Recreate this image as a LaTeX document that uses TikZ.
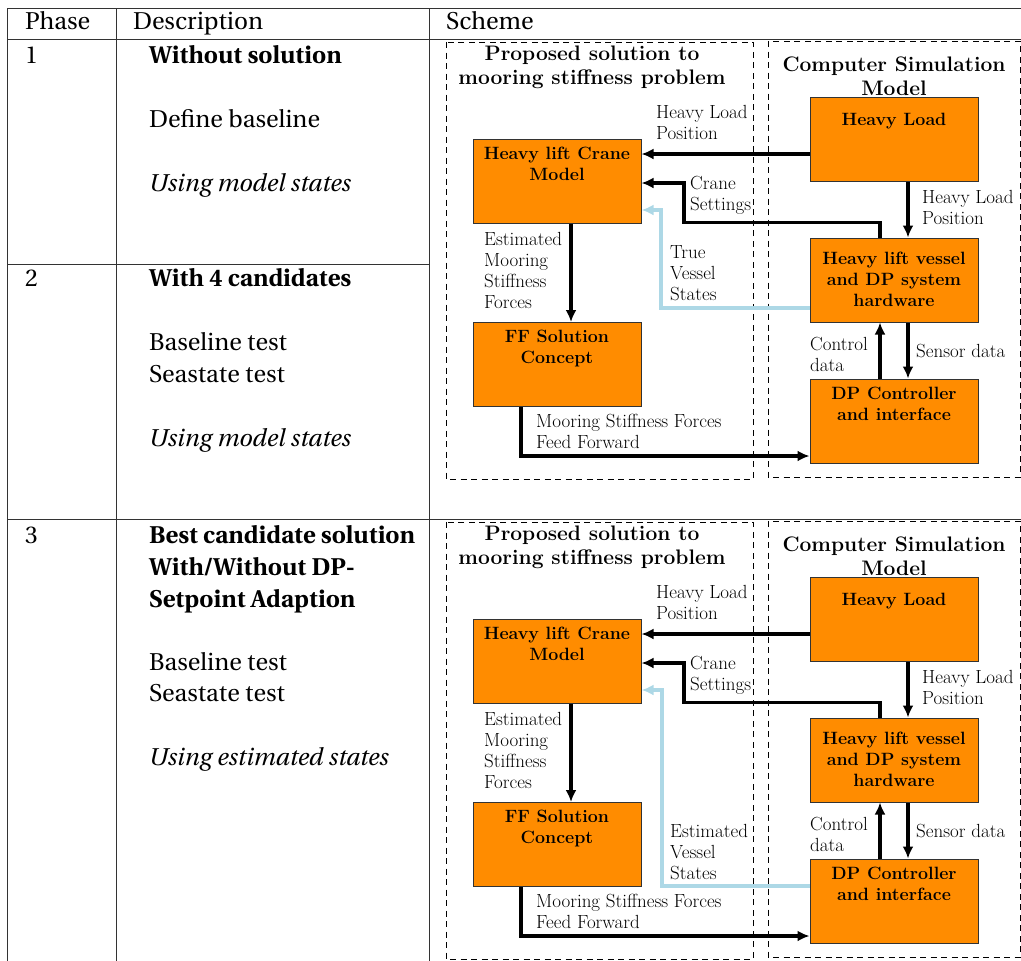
\documentclass[tikz,border=0pt]{standalone}
\usepackage[T1,TU]{fontenc}
\usetikzlibrary{arrows.meta,calc}

% Utopia for the table text, Latin Modern for the block diagrams
\newcommand{\tablefont}{\fontencoding{T1}\fontfamily{put}\selectfont}

\definecolor{blockfill}{RGB}{255,140,0}
\definecolor{statecol}{RGB}{173,216,230}

\tikzset{
  rule/.style={line width=1pt, draw=black!80},
  cell/.style={anchor=base west, inner sep=0pt,
    font=\tablefont\fontsize{24.3}{29}\selectfont},
  group/.style={draw=black, line width=1pt, dash pattern=on 6pt off 4.5pt},
  title/.style={anchor=north, inner sep=0pt, align=center,
    font=\fontsize{21}{24}\selectfont\bfseries},
  block/.style={draw=black!80, line width=1pt, fill=blockfill,
    minimum width=168pt, minimum height=84pt, inner sep=0pt},
  blocklabel/.style={anchor=north, inner sep=0pt, align=center,
    font=\fontsize{17.8}{21}\selectfont\bfseries},
  sig/.style={anchor=north west, inner sep=0pt, align=left,
    font=\fontsize{19}{21}\selectfont},
  arr/.style={line width=3.4pt, draw=black, -{Latex[length=12pt,width=11pt]}},
  statearr/.style={line width=3.4pt, draw=statecol, -{Latex[length=12pt,width=11pt]}},
}

% One copy of the feed-forward scheme; #1 vertical offset, #2 name suffix
\newcommand{\drawscheme}[2]{%
\begin{scope}[yshift=#1]
  \draw[group] (446,42) rectangle (753,479);
  \draw[group] (768,41) rectangle (1020,477);
  \node[title] (prop#2) at (592,46) {Proposed solution to\\mooring stiffness problem};
  \node[title] (sim#2) at (894,57) {Computer Simulation\\Model};

  \node[block] (crane#2)  at (557,181)   {};
  \node[block] (hload#2)  at (894,139.5) {};
  \node[block] (vessel#2) at (894,280)   {};
  \node[block] (ff#2)     at (557,364.5) {};
  \node[block] (dp#2)     at (894,421)   {};

  \node[blocklabel] (cranet#2)  at ([yshift=-8pt]crane#2.north)    {Heavy lift Crane\\Model};
  \node[blocklabel] (hloadt#2)  at ([yshift=-16pt]hload#2.north)   {Heavy Load};
  \node[blocklabel] (vesselt#2) at ([yshift=-14.5pt]vessel#2.north) {Heavy lift vessel\\and DP system\\hardware};
  \node[blocklabel] (fft#2)     at ([yshift=-8pt]ff#2.north)       {FF Solution\\Concept};
  \node[blocklabel] (dpt#2)     at ([yshift=-8.5pt]dp#2.north)     {DP Controller\\and interface};

  % load position to the crane model
  \draw[arr] ([yshift=-14.5pt]hload#2.west) coordinate (hp#2) -- (hp#2 -| crane#2.east);
  % crane settings from the vessel
  \draw[arr] ([xshift=-14pt]vessel#2.north) -- ++(0,-15) -| (684,183) -- (crane#2.east |- 684,183);
  % load position down to the vessel
  \draw[arr] ([xshift=14pt]hload#2.south) -- ([xshift=14pt]vessel#2.north);
  % estimated forces to the FF concept
  \draw[arr] ([xshift=14pt]crane#2.south) -- ([xshift=14pt]ff#2.north);
  % feed forward to the DP controller
  \draw[arr] ([xshift=-36pt]ff#2.south) |- ([yshift=-35pt]dp#2.west);
  % control and sensor data
  \draw[arr] ([xshift=-14pt]dp#2.north) -- ([xshift=-14pt]vessel#2.south);
  \draw[arr] ([xshift=14pt]vessel#2.south) -- ([xshift=14pt]dp#2.north);

  \node[sig] (l1#2) at (656,105) {Heavy Load\\Position};
  \node[sig] (l2#2) at (690,176) {Crane\\Settings};
  \node[sig] (l3#2) at (484,232) {Estimated\\Mooring\\Stiffness\\Forces};
  \node[sig] (l4#2) at (536,414) {Mooring Stiffness Forces\\Feed Forward};
  \node[sig] (l5#2) at (922,190) {Heavy Load\\Position};
  \node[sig] (l6#2) at (810,337) {Control\\data};
  \node[sig] (l7#2) at (916,344) {Sensor data};
\end{scope}}

\begin{document}
\begin{tikzpicture}[x=1pt,y=-1pt]
  \useasboundingbox (0,0) rectangle (1021,961);

  % table rules
  \draw[rule] (7.5,8) -- (1021,8);
  \draw[rule] (7.5,39) -- (1021,39);
  \draw[rule] (7.5,264) -- (429,264);
  \draw[rule] (7.5,519) -- (1021,519);
  \draw[rule] (7.5,8) -- (7.5,961);
  \draw[rule] (116,8) -- (116,961);
  \draw[rule] (429,8) -- (429,961);

  % header
  \node[cell] (hphase) at (25,30)  {Phase};
  \node[cell] (hdesc)  at (133,30) {Description};
  \node[cell] (hsch)   at (446,30) {Scheme};

  % phase 1
  \node[cell] (n1)  at (25,63)   {1};
  \node[cell] (a1)  at (149,63)  {\bfseries Without solution};
  \node[cell] (a2)  at (149,127) {Define baseline};
  \node[cell] (a3)  at (148,191) {\itshape Using model states};

  % phase 2
  \node[cell] (n2)  at (25,286)  {2};
  \node[cell] (b1)  at (149,286) {\bfseries With 4 candidates};
  \node[cell] (b2)  at (149,350) {Baseline test};
  \node[cell] (b3)  at (149,382) {Seastate test};
  \node[cell] (b4)  at (148,446) {\itshape Using model states};

  % phase 3
  \node[cell] (n3)  at (25,543)  {3};
  \node[cell] (c1)  at (149,543) {\bfseries Best candidate solution};
  \node[cell] (c2)  at (149,575) {\bfseries With/Without DP-};
  \node[cell] (c3)  at (149,607) {\bfseries Setpoint Adaption};
  \node[cell] (c4)  at (149,670) {Baseline test};
  \node[cell] (c5)  at (149,701) {Seastate test};
  \node[cell] (c6)  at (148,765) {\itshape Using estimated states};

  % schemes
  \drawscheme{0pt}{A}
  \drawscheme{-480pt}{B}

  % vessel states fed back to the crane model
  \draw[statearr] ([yshift=-28pt]vesselA.west) -| (661,210) -- (craneA.east |- 661,210);
  \node[sig] (tvs) at (670,245) {True\\Vessel\\States};

  \draw[statearr] ([yshift=15pt]dpB.west) -| (662,690) -- (craneB.east |- 662,690);
  \node[sig] (evs) at (670,824) {Estimated\\Vessel\\States};
\end{tikzpicture}
\end{document}
